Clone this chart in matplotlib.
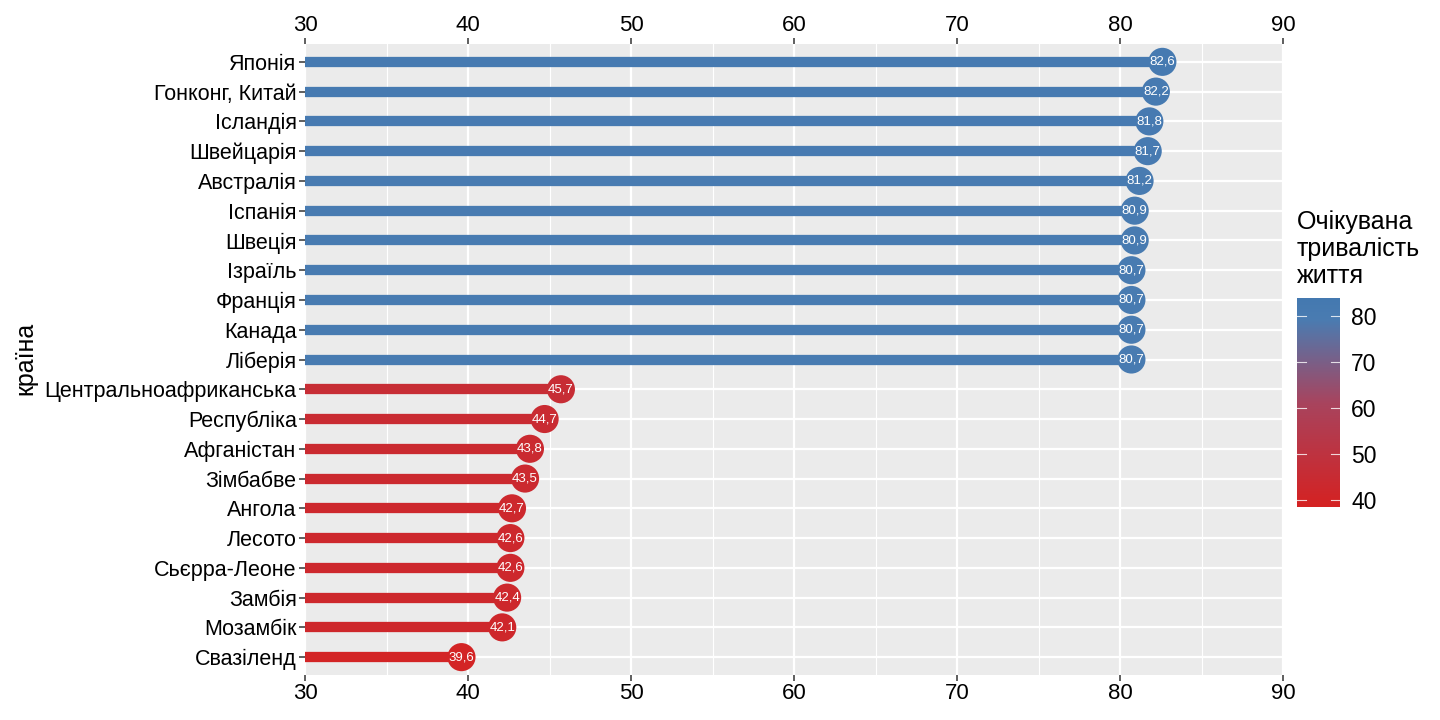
import numpy as np
import matplotlib
matplotlib.use("Agg")
import matplotlib.pyplot as plt
from matplotlib.colors import LinearSegmentedColormap, Normalize

plt.rcParams['font.family'] = ['Liberation Sans', 'DejaVu Sans']

# data, top to bottom
countries = ['Японія', 'Гонконг, Китай', 'Ісландія', 'Швейцарія', 'Австралія',
             'Іспанія', 'Швеція', 'Ізраїль', 'Франція', 'Канада', 'Ліберія',
             'Центральноафриканська', 'Республіка', 'Афганістан', 'Зімбабве',
             'Ангола', 'Лесото', 'Сьєрра-Леоне', 'Замбія', 'Мозамбік', 'Свазіленд']
life_exp = [82.6, 82.2, 81.8, 81.7, 81.2, 80.9, 80.9, 80.7, 80.7, 80.7, 80.7,
            45.7, 44.7, 43.8, 43.5, 42.7, 42.6, 42.6, 42.4, 42.1, 39.6]
x_ticks = [30, 40, 50, 60, 70, 80, 90]
cbar_ticks = [40, 50, 60, 70, 80]

cmap = LinearSegmentedColormap.from_list(
    'lifeexp', [(0.0, '#d52222'), (0.5, '#a8445e'), (0.9, '#4a7cb2'), (1.0, '#4479b0')])
norm = Normalize(vmin=38.4, vmax=83.9)

fig = plt.figure(figsize=(14.4, 7.2), dpi=100)
ax = fig.add_axes([305 / 1440, 45 / 720, 978 / 1440, 631 / 720])
ax.set_facecolor('#ebebeb')

n = len(countries)
y = np.arange(n)
vals = np.array(life_exp)
cols = cmap(norm(vals))

# grid
for v in x_ticks:
    ax.axvline(v, color='white', lw=1.6, zorder=0)
for v in range(35, 90, 10):
    ax.axvline(v, color='white', lw=0.8, zorder=0)
for yy in y:
    ax.axhline(yy, color='white', lw=1.6, zorder=0)

ax.hlines(y, 0, vals, colors=cols, lw=7.4, capstyle='butt', zorder=2)
ax.scatter(vals, y, s=410, c=cols, zorder=3, linewidths=0)
for yy, v in zip(y, vals):
    ax.text(v, yy, f'{v:.1f}'.replace('.', ','), color='white', fontsize=9.5,
            ha='center', va='center', zorder=4)

ax.set_xlim(30, 90)
ax.set_ylim(n - 1 + 0.6, -0.6)
ax.set_xticks(x_ticks)
ax.set_yticks(y)
ax.set_yticklabels(countries)
ax.tick_params(axis='x', top=True, labeltop=True, labelsize=16, length=4,
               width=1.1, color='#333333', pad=2)
ax.tick_params(axis='y', labelsize=15.5, length=4, width=1.1, color='#333333', pad=2)
for s in ax.spines.values():
    s.set_visible(False)
fig.text(25 / 1440, 1 - 358 / 720, 'країна', fontsize=18, rotation=90,
         ha='center', va='center')

# colour bar
cax = fig.add_axes([1297 / 1440, 213 / 720, 43 / 1440, 209 / 720])
grad = np.linspace(38.4, 83.9, 256).reshape(-1, 1)
cax.imshow(grad, aspect='auto', cmap=cmap, norm=norm, origin='lower',
           extent=[0, 1, 38.4, 83.9])
cax.set_xlim(0, 1)
cax.set_ylim(38.4, 83.9)
cax.set_xticks([])
for t in cbar_ticks:
    cax.plot([0, 0.2], [t, t], color='white', lw=0.8, alpha=0.8)
    cax.plot([0.8, 1], [t, t], color='white', lw=0.8, alpha=0.8)
cax.yaxis.tick_right()
cax.set_yticks(cbar_ticks)
cax.tick_params(axis='y', length=0, labelsize=16.5, pad=8)
for s in cax.spines.values():
    s.set_visible(False)

fig.text(1297 / 1440, 1 - 288 / 720, 'Очікувана\nтривалість\nжиття', fontsize=18,
         ha='left', va='bottom', linespacing=1.15)

fig.savefig('out.png', dpi=100)
